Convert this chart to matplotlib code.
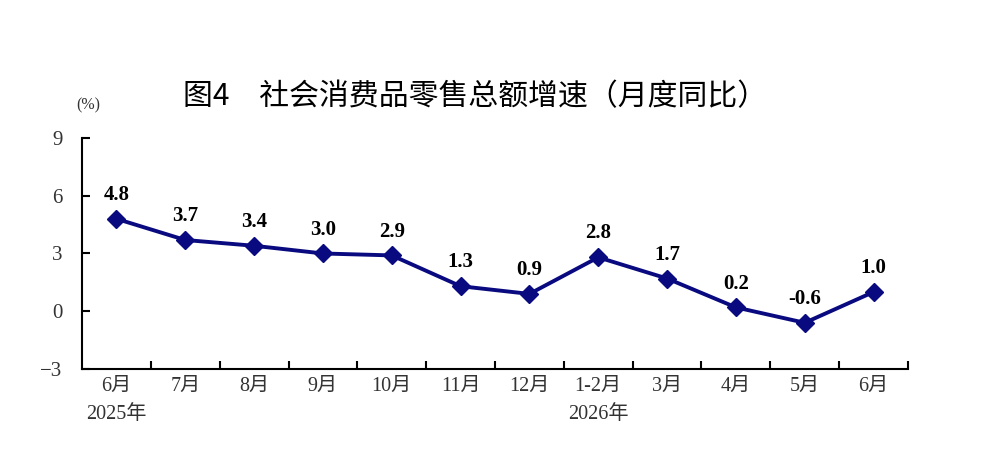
import matplotlib
matplotlib.use('Agg')
import matplotlib.pyplot as plt

# 社会消费品零售总额增速（月度同比）
months = ['6月\n2025年', '7月', '8月', '9月', '10月', '11月', '12月',
          '1-2月\n2026年', '3月', '4月', '5月', '6月']
growth = [4.8, 3.7, 3.4, 3.0, 2.9, 1.3, 0.9, 2.8, 1.7, 0.2, -0.6, 1.0]
yticks = [-3, 0, 3, 6, 9]

navy = '#0a0a80'
serif = ['Liberation Serif', 'Noto Sans CJK SC']

fig = plt.figure(figsize=(9.92, 4.66), dpi=100)
ax = fig.add_axes([0.0827, 0.2082, 0.8326, 0.4957])

x = list(range(len(growth)))
ax.plot(x, growth, color=navy, lw=2.8, marker='D', ms=9, mfc=navy, mec=navy)
for xi, v in zip(x, growth):
    ax.text(xi, v + 0.72, f'{v:.1f}', ha='center', va='bottom',
            fontsize=15, fontweight='bold', family='Liberation Serif')

ax.set_xlim(-0.5, len(growth) - 0.5)
ax.set_ylim(-3, 9)
ax.set_yticks(yticks)
ax.set_yticklabels(['−3', '0', '3', '6', '9'], family=serif, fontsize=15, color='#333333')
ax.tick_params(axis='y', direction='in', length=6, width=1.5, pad=14)

# 刻度在类别边界，标签在类别中间
ax.set_xticks([i + 0.5 for i in x])
ax.set_xticklabels([])
ax.set_xticks(x, minor=True)
ax.set_xticklabels(months, minor=True, family=serif, fontsize=14.5, color='#333333',
                   linespacing=1.65, va='top')
ax.tick_params(axis='x', which='major', direction='in', length=6, width=1.5)
ax.tick_params(axis='x', which='minor', length=0, pad=6)

for s in ['top', 'right']:
    ax.spines[s].set_visible(False)
for s in ['left', 'bottom']:
    ax.spines[s].set_linewidth(1.5)

fig.text(0.0887, 0.765, '(%)', fontsize=11.5, family=serif, color='#333333', ha='center')
fig.text(0.479, 0.775, '图4　社会消费品零售总额增速（月度同比）', ha='center',
         fontsize=21.5, family=['Noto Sans CJK SC', 'DejaVu Sans'])

fig.savefig('out.png', dpi=100)
